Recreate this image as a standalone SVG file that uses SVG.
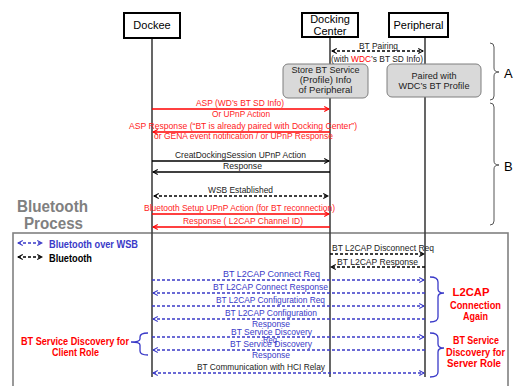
<svg xmlns="http://www.w3.org/2000/svg" width="521" height="386" viewBox="0 0 521 386">
<style>
text{font-family:"Liberation Sans",Arial,sans-serif;}
.node rect{fill:#fff;stroke:#000;stroke-width:2;}
.nl{font-size:11px;fill:#000;text-anchor:middle;}
.gb{fill:#d9d9d9;stroke:#7f7f7f;stroke-width:1;}
.gt{font-size:9.5px;fill:#222;text-anchor:middle;}
.life{stroke:#404040;stroke-width:1.6;fill:none;}
.t{font-size:9.5px;}
.k{fill:#222;}
.r{fill:#ff1a1a;}
.b{fill:#3a3ac8;}
.lk{stroke:#000;stroke-width:1.3;fill:none;}
.lkd{stroke:#000;stroke-width:1.3;fill:none;stroke-dasharray:3 2;}
.lr{stroke:#ff0000;stroke-width:1.3;fill:none;}
.lb{stroke:#3a3ac8;stroke-width:1.3;fill:none;stroke-dasharray:3 2;}
.br{fill:none;stroke:#555;stroke-width:1;}
.bb{fill:none;stroke:#3a3ac8;stroke-width:1.3;}
.rb{font-size:10.5px;font-weight:bold;fill:#ff0000;text-anchor:middle;}
</style>
<defs>
<marker id="ak" viewBox="0 0 10 10" refX="9" refY="5" markerWidth="6" markerHeight="6" orient="auto-start-reverse" markerUnits="userSpaceOnUse"><path d="M1,1 L9,5 L1,9" fill="none" stroke="#000" stroke-width="1.8"/></marker>
<marker id="ar" viewBox="0 0 10 10" refX="9" refY="5" markerWidth="6" markerHeight="6" orient="auto-start-reverse" markerUnits="userSpaceOnUse"><path d="M1,1 L9,5 L1,9" fill="none" stroke="#ff0000" stroke-width="1.8"/></marker>
<marker id="ab" viewBox="0 0 10 10" refX="9" refY="5" markerWidth="6" markerHeight="6" orient="auto-start-reverse" markerUnits="userSpaceOnUse"><path d="M1,1 L9,5 L1,9" fill="none" stroke="#3a3ac8" stroke-width="1.8"/></marker>
</defs>

<rect x="0" y="0" width="521" height="386" fill="#fff"/>

<!-- Bluetooth process frame -->
<g id="bt-process">
<rect x="13" y="233" width="495" height="160" fill="none" stroke="#808080" stroke-width="1.6"/>
<text x="17" y="212" font-size="16" font-weight="bold" fill="#808080" textLength="71" lengthAdjust="spacingAndGlyphs">Bluetooth</text>
<text x="24" y="229" font-size="16" font-weight="bold" fill="#808080" textLength="59" lengthAdjust="spacingAndGlyphs">Process</text>
</g>

<!-- legend -->
<g id="legend">
<line x1="18" y1="243" x2="42" y2="243" class="lb" marker-start="url(#ab)" marker-end="url(#ab)"/>
<text x="49" y="248" font-size="10" font-weight="bold" fill="#3a3ac8" textLength="89" lengthAdjust="spacingAndGlyphs">Bluetooth over WSB</text>
<line x1="18" y1="257" x2="42" y2="257" class="lkd" marker-start="url(#ak)" marker-end="url(#ak)"/>
<text x="49" y="262" font-size="10" font-weight="bold" fill="#000" textLength="43" lengthAdjust="spacingAndGlyphs">Bluetooth</text>
</g>

<!-- lifelines -->
<g id="lifelines">
<line x1="152" y1="38" x2="152" y2="377" class="life"/>
<line x1="330" y1="37" x2="330" y2="377" class="life"/>
<line x1="425" y1="37" x2="425" y2="377" class="life"/>
</g>

<g id="dockee" class="node">
<rect x="124" y="13" width="56" height="25"/>
<text x="152" y="29" class="nl">Dockee</text>
</g>
<g id="docking-center" class="node">
<rect x="302" y="13" width="56" height="24"/>
<text x="330" y="23" class="nl">Docking</text>
<text x="330" y="35" class="nl">Center</text>
</g>
<g id="peripheral" class="node">
<rect x="389" y="13" width="59" height="24"/>
<text x="418.5" y="29" class="nl">Peripheral</text>
</g>

<g id="store-info">
<rect x="283" y="64" width="85" height="34" rx="5" class="gb"/>
<text x="325.5" y="73" class="gt" textLength="68" lengthAdjust="spacingAndGlyphs">Store BT Service</text>
<text x="325.5" y="83" class="gt">(Profile) Info</text>
<text x="325.5" y="93" class="gt">of Peripheral</text>
</g>
<g id="paired">
<rect x="387" y="64" width="94" height="33" rx="5" class="gb"/>
<text x="434" y="79" class="gt" textLength="45" lengthAdjust="spacingAndGlyphs">Paired with</text>
<text x="434" y="89" class="gt" textLength="71" lengthAdjust="spacingAndGlyphs">WDC’s BT Profile</text>
</g>

<!-- braces A / B -->
<g id="brace-a">
<path d="M490,43 Q494,43 494,47 L494,68 Q494,72 499,72 Q494,72 494,76 L494,96 Q494,100 490,100" class="br"/>
<text x="504" y="78" font-size="13" fill="#000">A</text>
</g>
<g id="brace-b">
<path d="M490,103 Q494,103 494,107 L494,161 Q494,165 499,165 Q494,165 494,169 L494,221 Q494,225 490,225" class="br"/>
<text x="504" y="171" font-size="13" fill="#000">B</text>
</g>

<!-- connectors -->
<g id="connectors">
<line x1="332" y1="51" x2="423" y2="51" class="lkd" marker-start="url(#ak)" marker-end="url(#ak)"/>
<line x1="152" y1="109" x2="329" y2="109" class="lr" marker-end="url(#ar)"/>
<line x1="330" y1="132" x2="153" y2="132" class="lr" marker-end="url(#ar)"/>
<line x1="152" y1="161" x2="329" y2="161" class="lk" marker-end="url(#ak)"/>
<line x1="330" y1="172" x2="153" y2="172" class="lk" marker-end="url(#ak)"/>
<line x1="154" y1="196" x2="328" y2="196" class="lkd" marker-start="url(#ak)" marker-end="url(#ak)"/>
<line x1="152" y1="214" x2="329" y2="214" class="lr" marker-end="url(#ar)"/>
<line x1="330" y1="227" x2="153" y2="227" class="lr" marker-end="url(#ar)"/>
<line x1="330" y1="254" x2="424" y2="254" class="lkd" marker-end="url(#ak)"/>
<line x1="425" y1="267" x2="331" y2="267" class="lkd" marker-end="url(#ak)"/>
<line x1="152" y1="280" x2="424" y2="280" class="lb" marker-end="url(#ab)"/>
<line x1="425" y1="293" x2="153" y2="293" class="lb" marker-end="url(#ab)"/>
<line x1="152" y1="306" x2="424" y2="306" class="lb" marker-end="url(#ab)"/>
<line x1="425" y1="319" x2="153" y2="319" class="lb" marker-end="url(#ab)"/>
<line x1="152" y1="337" x2="424" y2="337" class="lb" marker-end="url(#ab)"/>
<line x1="425" y1="350" x2="153" y2="350" class="lb" marker-end="url(#ab)"/>
<line x1="153" y1="373" x2="424" y2="373" class="lb" marker-start="url(#ab)" marker-end="url(#ab)"/>
</g>

<!-- connector labels -->
<g id="labels" class="t">
<text x="359" y="49" class="k" textLength="39" lengthAdjust="spacingAndGlyphs">BT Pairing</text>
<text x="331" y="62" class="k" textLength="92" lengthAdjust="spacingAndGlyphs">(with <tspan fill="#ff0000">WDC</tspan>’s BT SD Info)</text>
<text x="196" y="106" class="r" textLength="88" lengthAdjust="spacingAndGlyphs">ASP (WD’s BT SD Info)</text>
<text x="212" y="117" class="r" textLength="58" lengthAdjust="spacingAndGlyphs">Or UPnP Action</text>
<text x="129" y="129" class="r" textLength="228" lengthAdjust="spacingAndGlyphs">ASP Response (“BT is already paired with Docking Center”)</text>
<text x="154" y="139" class="r" textLength="179" lengthAdjust="spacingAndGlyphs">or GENA event notification / or UPnP Response</text>
<text x="175" y="158" class="k" textLength="131" lengthAdjust="spacingAndGlyphs">CreatDockingSession UPnP Action</text>
<text x="223" y="169" class="k" textLength="39" lengthAdjust="spacingAndGlyphs">Response</text>
<text x="208" y="193" class="k" textLength="65" lengthAdjust="spacingAndGlyphs">WSB Established</text>
<text x="144" y="211" class="r" textLength="191" lengthAdjust="spacingAndGlyphs">Bluetooth Setup UPnP Action  (for BT reconnection)</text>
<text x="183" y="224" class="r" textLength="120" lengthAdjust="spacingAndGlyphs">Response ( L2CAP Channel ID)</text>
<text x="332" y="251" class="k" textLength="102" lengthAdjust="spacingAndGlyphs">BT L2CAP Disconnect Req</text>
<text x="337" y="265" class="k" textLength="81" lengthAdjust="spacingAndGlyphs">BT L2CAP Response</text>
<text x="223" y="277" class="b" textLength="97" lengthAdjust="spacingAndGlyphs">BT L2CAP Connect Req</text>
<text x="213" y="290" class="b" textLength="115" lengthAdjust="spacingAndGlyphs">BT L2CAP Connect Response</text>
<text x="216" y="303" class="b" textLength="109" lengthAdjust="spacingAndGlyphs">BT L2CAP Configuration  Req</text>
<text x="225" y="316" class="b" textLength="92" lengthAdjust="spacingAndGlyphs">BT L2CAP Configuration</text>
<text x="252" y="327" class="b" textLength="38" lengthAdjust="spacingAndGlyphs">Response</text>
<text x="231" y="335" class="b" textLength="81" lengthAdjust="spacingAndGlyphs">BT Service Discovery</text>
<text x="263" y="343" class="b" textLength="14" lengthAdjust="spacingAndGlyphs">Req</text>
<text x="230" y="347" class="b" textLength="82" lengthAdjust="spacingAndGlyphs">BT Service Discovery</text>
<text x="252" y="358" class="b" textLength="38" lengthAdjust="spacingAndGlyphs">Response</text>
<text x="197" y="370" class="k" textLength="128" lengthAdjust="spacingAndGlyphs">BT Communication with HCI Relay</text>
</g>

<!-- blue braces and red annotations -->
<g id="l2cap-again">
<path d="M430,277 Q438,277 438,282 L438,289 Q438,293 444,293 Q438,293 438,297 L438,317 Q438,322 430,322" class="bb"/>
<text x="471" y="296" class="rb" textLength="37" lengthAdjust="spacingAndGlyphs">L2CAP</text>
<text x="475.5" y="309" class="rb" textLength="51" lengthAdjust="spacingAndGlyphs">Connection</text>
<text x="475.5" y="320" class="rb" textLength="25" lengthAdjust="spacingAndGlyphs">Again</text>
</g>
<g id="sd-server">
<path d="M430,333 Q438,333 438,338 L438,344 Q438,348 444,348 Q438,348 438,352 L438,372 Q438,377 430,377" class="bb"/>
<text x="476" y="344" class="rb" textLength="46" lengthAdjust="spacingAndGlyphs">BT Service</text>
<text x="475.5" y="356" class="rb" textLength="59" lengthAdjust="spacingAndGlyphs">Discovery for</text>
<text x="474" y="367" class="rb" textLength="54" lengthAdjust="spacingAndGlyphs">Server Role</text>
</g>
<g id="sd-client">
<path d="M148,333 Q140,333 140,337 L140,339 Q140,342 131,342 Q140,342 140,345 L140,351 Q140,355 148,355" class="bb"/>
<text x="75" y="345" class="rb" textLength="108" lengthAdjust="spacingAndGlyphs">BT Service Discovery for</text>
<text x="75.5" y="356" class="rb" textLength="47" lengthAdjust="spacingAndGlyphs">Client Role</text>
</g>
</svg>
